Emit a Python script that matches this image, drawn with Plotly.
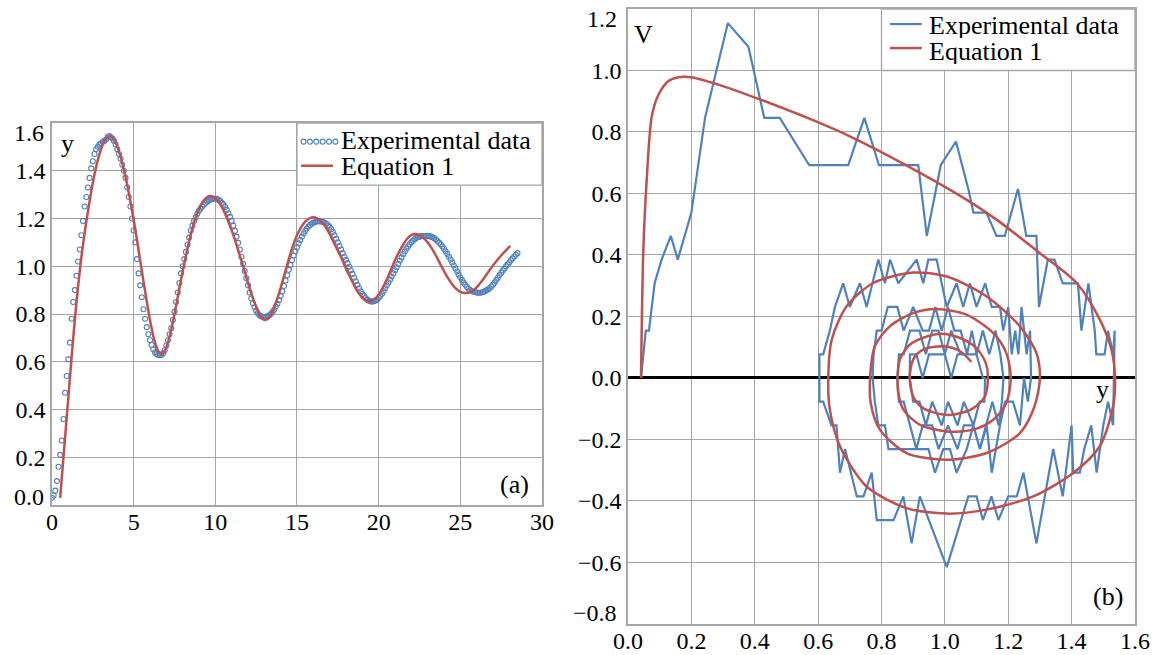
import plotly.graph_objects as go

# ---------------- Panel (a): y versus tau ----------------
tau_exp = [
    0.0, 0.1, 0.2, 0.3, 0.4, 0.5, 0.6, 0.7, 0.8, 0.9,
    1.0, 1.1, 1.2, 1.3, 1.4, 1.5, 1.6, 1.7, 1.8, 1.9,
    2.0, 2.1, 2.2, 2.3, 2.4, 2.5, 2.6, 2.7, 2.8, 2.9,
    3.0, 3.1, 3.2, 3.3, 3.4, 3.5, 3.6, 3.7, 3.8, 3.9,
    4.0, 4.1, 4.2, 4.3, 4.4, 4.5, 4.6, 4.7, 4.8, 4.9,
    5.0, 5.1, 5.2, 5.3, 5.4, 5.5, 5.6, 5.7, 5.8, 5.9,
    6.0, 6.1, 6.2, 6.3, 6.4, 6.5, 6.6, 6.7, 6.8, 6.9,
    7.0, 7.1, 7.2, 7.3, 7.4, 7.5, 7.6, 7.7, 7.8, 7.9,
    8.0, 8.1, 8.2, 8.3, 8.4, 8.5, 8.6, 8.7, 8.8, 8.9,
    9.0, 9.1, 9.2, 9.3, 9.4, 9.5, 9.6, 9.7, 9.8, 9.9,
    10.0, 10.1, 10.2, 10.3, 10.4, 10.5, 10.6, 10.7, 10.8, 10.9,
    11.0, 11.1, 11.2, 11.3, 11.4, 11.5, 11.6, 11.7, 11.8, 11.9,
    12.0, 12.1, 12.2, 12.3, 12.4, 12.5, 12.6, 12.7, 12.8, 12.9,
    13.0, 13.1, 13.2, 13.3, 13.4, 13.5, 13.6, 13.7, 13.8, 13.9,
    14.0, 14.1, 14.2, 14.3, 14.4, 14.5, 14.6, 14.7, 14.8, 14.9,
    15.0, 15.1, 15.2, 15.3, 15.4, 15.5, 15.6, 15.7, 15.8, 15.9,
    16.0, 16.1, 16.2, 16.3, 16.4, 16.5, 16.6, 16.7, 16.8, 16.9,
    17.0, 17.1, 17.2, 17.3, 17.4, 17.5, 17.6, 17.7, 17.8, 17.9,
    18.0, 18.1, 18.2, 18.3, 18.4, 18.5, 18.6, 18.7, 18.8, 18.9,
    19.0, 19.1, 19.2, 19.3, 19.4, 19.5, 19.6, 19.7, 19.8, 19.9,
    20.0, 20.1, 20.2, 20.3, 20.4, 20.5, 20.6, 20.7, 20.8, 20.9,
    21.0, 21.1, 21.2, 21.3, 21.4, 21.5, 21.6, 21.7, 21.8, 21.9,
    22.0, 22.1, 22.2, 22.3, 22.4, 22.5, 22.6, 22.7, 22.8, 22.9,
    23.0, 23.1, 23.2, 23.3, 23.4, 23.5, 23.6, 23.7, 23.8, 23.9,
    24.0, 24.1, 24.2, 24.3, 24.4, 24.5, 24.6, 24.7, 24.8, 24.9,
    25.0, 25.1, 25.2, 25.3, 25.4, 25.5, 25.6, 25.7, 25.8, 25.9,
    26.0, 26.1, 26.2, 26.3, 26.4, 26.5, 26.6, 26.7, 26.8, 26.9,
    27.0, 27.1, 27.2, 27.3, 27.4, 27.5, 27.6, 27.7, 27.8, 27.9,
    28.0, 28.1, 28.2, 28.3, 28.4, 28.5,
]
y_exp = [
    0.03, 0.04, 0.06, 0.10, 0.16, 0.21, 0.27, 0.36, 0.47, 0.54,
    0.61, 0.68, 0.78, 0.85, 0.90, 0.96, 1.02, 1.07, 1.13, 1.19,
    1.25, 1.29, 1.33, 1.37, 1.41, 1.44, 1.47, 1.49, 1.50, 1.51,
    1.515, 1.52, 1.525, 1.53, 1.54, 1.545, 1.54, 1.535, 1.525, 1.51,
    1.49, 1.47, 1.45, 1.425, 1.40, 1.37, 1.33, 1.29, 1.25, 1.20,
    1.15, 1.10, 1.03, 0.97, 0.92, 0.87, 0.82, 0.78, 0.745, 0.715,
    0.69, 0.67, 0.652, 0.64, 0.632, 0.628, 0.627, 0.628, 0.635, 0.648,
    0.668, 0.69, 0.715, 0.74, 0.775, 0.81, 0.85, 0.89, 0.93, 0.97,
    1.00, 1.03, 1.06, 1.09, 1.12, 1.15, 1.17, 1.19, 1.205, 1.22,
    1.232, 1.242, 1.25, 1.258, 1.265, 1.27, 1.275, 1.279, 1.282, 1.283,
    1.283, 1.281, 1.278, 1.273, 1.266, 1.258, 1.248, 1.236, 1.222, 1.207,
    1.19, 1.17, 1.148, 1.124, 1.098, 1.07, 1.04, 1.01, 0.98, 0.95,
    0.92, 0.89, 0.865, 0.845, 0.828, 0.814, 0.803, 0.795, 0.79, 0.788,
    0.787, 0.788, 0.79, 0.795, 0.80, 0.808, 0.818, 0.83, 0.843, 0.858,
    0.875, 0.895, 0.917, 0.94, 0.962, 0.985, 1.005, 1.025, 1.045, 1.063,
    1.08, 1.096, 1.11, 1.124, 1.137, 1.148, 1.158, 1.166, 1.173, 1.178,
    1.182, 1.185, 1.187, 1.188, 1.188, 1.187, 1.185, 1.182, 1.178, 1.172,
    1.165, 1.155, 1.143, 1.13, 1.115, 1.10, 1.085, 1.07, 1.055, 1.04,
    1.027, 1.013, 0.998, 0.983, 0.968, 0.952, 0.937, 0.922, 0.908, 0.895,
    0.884, 0.875, 0.867, 0.86, 0.856, 0.853, 0.852, 0.853, 0.856, 0.86,
    0.867, 0.875, 0.885, 0.896, 0.908, 0.92, 0.932, 0.944, 0.957, 0.97,
    0.983, 0.996, 1.01, 1.024, 1.037, 1.05, 1.062, 1.073, 1.083, 1.092,
    1.10, 1.107, 1.113, 1.118, 1.122, 1.124, 1.126, 1.127, 1.127, 1.127,
    1.127, 1.126, 1.124, 1.121, 1.117, 1.112, 1.106, 1.099, 1.092, 1.083,
    1.073, 1.063, 1.052, 1.04, 1.028, 1.016, 1.003, 0.99, 0.978, 0.965,
    0.953, 0.942, 0.932, 0.922, 0.913, 0.906, 0.90, 0.896, 0.893, 0.891,
    0.89, 0.889, 0.889, 0.89, 0.892, 0.895, 0.899, 0.903, 0.908, 0.915,
    0.923, 0.932, 0.942, 0.952, 0.963, 0.973, 0.982, 0.991, 1.00, 1.008,
    1.016, 1.025, 1.033, 1.041, 1.048, 1.055,
]
tau_eq = [
    0.5, 0.75, 1.0, 1.25, 1.5, 1.75, 2.0, 2.25, 2.5, 2.75,
    3.0, 3.25, 3.5, 3.75, 4.0, 4.25, 4.5, 4.75, 5.0, 5.25,
    5.5, 5.75, 6.0, 6.25, 6.5, 6.75, 7.0, 7.25, 7.5, 7.75,
    8.0, 8.25, 8.5, 8.75, 9.0, 9.25, 9.5, 9.75, 10.0, 10.25,
    10.5, 10.75, 11.0, 11.25, 11.5, 11.75, 12.0, 12.25, 12.5, 12.75,
    13.0, 13.25, 13.5, 13.75, 14.0, 14.25, 14.5, 14.75, 15.0, 15.25,
    15.5, 15.75, 16.0, 16.25, 16.5, 16.75, 17.0, 17.25, 17.5, 17.75,
    18.0, 18.25, 18.5, 18.75, 19.0, 19.25, 19.5, 19.75, 20.0, 20.25,
    20.5, 20.75, 21.0, 21.25, 21.5, 21.75, 22.0, 22.25, 22.5, 22.75,
    23.0, 23.25, 23.5, 23.75, 24.0, 24.25, 24.5, 24.75, 25.0, 25.25,
    25.5, 25.75, 26.0, 26.25, 26.5, 26.75, 27.0, 27.25, 27.5, 27.75,
    28.05,
]
y_eq = [
    0.03, 0.24, 0.45, 0.66, 0.85, 1.01, 1.14, 1.25, 1.35, 1.43,
    1.49, 1.53, 1.545, 1.535, 1.50, 1.445, 1.375, 1.29, 1.195, 1.09,
    0.98, 0.875, 0.775, 0.695, 0.645, 0.632, 0.66, 0.72, 0.80, 0.89,
    0.98, 1.06, 1.135, 1.195, 1.24, 1.272, 1.29, 1.294, 1.285, 1.265,
    1.235, 1.195, 1.15, 1.10, 1.045, 0.99, 0.93, 0.875, 0.83, 0.792,
    0.775, 0.782, 0.81, 0.855, 0.91, 0.97, 1.03, 1.085, 1.13, 1.163,
    1.187, 1.20, 1.205, 1.20, 1.187, 1.165, 1.135, 1.10, 1.065, 1.03,
    0.99, 0.955, 0.92, 0.89, 0.868, 0.855, 0.853, 0.862, 0.88, 0.91,
    0.945, 0.985, 1.025, 1.06, 1.09, 1.115, 1.13, 1.135, 1.13, 1.118,
    1.10, 1.075, 1.045, 1.012, 0.98, 0.95, 0.925, 0.905, 0.893, 0.888,
    0.889, 0.897, 0.912, 0.932, 0.955, 0.98, 1.003, 1.025, 1.045, 1.063,
    1.085,
]

# ---------------- Panel (b): V versus y (phase plane) ----------------
yb_exp = [
    0.041, 0.056, 0.066, 0.084, 0.106, 0.135, 0.157, 0.20, 0.243, 0.315,
    0.38, 0.43, 0.479, 0.572, 0.695, 0.746, 0.792, 0.916, 0.943, 0.987,
    1.035, 1.074, 1.09, 1.131, 1.163, 1.189, 1.231, 1.257, 1.289, 1.297,
    1.325, 1.346, 1.372, 1.42, 1.431, 1.453, 1.473, 1.478, 1.504, 1.515,
    1.531, 1.536,
    1.531, 1.515, 1.50, 1.49, 1.479, 1.462, 1.44, 1.426, 1.405, 1.40,
    1.372, 1.342, 1.289, 1.248, 1.227, 1.20, 1.169, 1.147, 1.12, 1.10,
    1.074, 1.006, 0.921, 0.895, 0.869, 0.838, 0.785, 0.769, 0.743, 0.722,
    0.685, 0.669, 0.658, 0.642, 0.616, 0.604, 0.604, 0.616,
    0.637, 0.653, 0.679, 0.70, 0.732, 0.753, 0.79, 0.811, 0.827, 0.853,
    0.911, 0.932, 0.948, 0.974, 1.006, 1.037, 1.058, 1.079, 1.10, 1.127,
    1.148, 1.174, 1.184, 1.20, 1.211, 1.222, 1.232, 1.242, 1.258, 1.269,
    1.272,
    1.262, 1.25, 1.237, 1.215, 1.19, 1.174, 1.148, 1.132, 1.111, 1.09,
    1.069, 1.037, 1.016, 0.995, 0.969, 0.948, 0.90, 0.874, 0.822, 0.811,
    0.79, 0.779, 0.772, 0.775,
    0.785, 0.80, 0.82, 0.85, 0.87, 0.90, 0.93, 0.95, 0.97, 0.99,
    1.01, 1.03, 1.05, 1.07, 1.085, 1.10, 1.12, 1.14, 1.16, 1.175,
    1.185,
    1.18, 1.17, 1.15, 1.13, 1.11, 1.09, 1.06, 1.04, 1.01, 0.98,
    0.96, 0.93, 0.91, 0.89, 0.87, 0.855, 0.85,
    0.855, 0.87, 0.89, 0.92, 0.94, 0.96, 0.98, 1.00, 1.02, 1.05,
    1.08, 1.10, 1.12, 1.127,
    1.125, 1.11, 1.09, 1.06, 1.04, 1.01, 0.99, 0.96, 0.94, 0.92,
    0.90, 0.889,
    0.89, 0.91, 0.93, 0.95, 0.97, 1.00, 1.02, 1.04, 1.055,
]
vb_exp = [
    0.0, 0.154, 0.154, 0.308, 0.385, 0.462, 0.385, 0.538, 0.846, 1.154,
    1.077, 0.846, 0.846, 0.692, 0.692, 0.846, 0.692, 0.692, 0.462, 0.692,
    0.769, 0.615, 0.538, 0.538, 0.462, 0.462, 0.615, 0.462, 0.462, 0.231,
    0.385, 0.385, 0.308, 0.308, 0.154, 0.308, 0.154, 0.077, 0.077, 0.154,
    0.077, 0.154,
    -0.154, -0.077, -0.154, -0.231, -0.308, -0.154, -0.231, -0.308, -0.308, -0.154,
    -0.385, -0.231, -0.538, -0.308, -0.385, -0.385, -0.462, -0.385, -0.462, -0.385,
    -0.385, -0.615, -0.385, -0.538, -0.385, -0.462, -0.462, -0.308, -0.385, -0.385,
    -0.231, -0.308, -0.154, -0.154, -0.077, -0.077, 0.077, 0.077,
    0.154, 0.231, 0.308, 0.231, 0.308, 0.231, 0.385, 0.308, 0.385, 0.308,
    0.385, 0.308, 0.385, 0.385, 0.231, 0.308, 0.231, 0.308, 0.231, 0.308,
    0.231, 0.231, 0.154, 0.231, 0.077, 0.154, 0.077, 0.231, 0.077, 0.154,
    0.0,
    -0.077, 0.0, -0.154, -0.077, -0.077, -0.154, -0.308, -0.154, -0.231, -0.154,
    -0.231, -0.308, -0.231, -0.231, -0.308, -0.231, -0.231, -0.231, -0.231, -0.154,
    -0.154, -0.077, 0.0, 0.077,
    0.154, 0.154, 0.231, 0.231, 0.154, 0.231, 0.154, 0.154, 0.231, 0.154,
    0.231, 0.154, 0.154, 0.077, 0.154, 0.077, 0.154, 0.077, 0.154, 0.077,
    0.0,
    -0.077, -0.154, -0.077, -0.154, -0.231, -0.154, -0.154, -0.231, -0.154, -0.231,
    -0.154, -0.154, -0.231, -0.154, -0.077, -0.077, 0.0,
    0.077, 0.077, 0.154, 0.154, 0.077, 0.154, 0.154, 0.077, 0.154, 0.077,
    0.077, 0.077, 0.0, 0.0,
    -0.077, -0.077, -0.154, -0.077, -0.154, -0.077, -0.154, -0.077, -0.154, -0.077,
    -0.077, 0.0,
    0.077, 0.077, 0.0, 0.077, 0.077, 0.077, 0.0, 0.077, 0.077,
]
yb_eq = [
    0.041, 0.048, 0.059, 0.075, 0.096, 0.127, 0.159, 0.20, 0.285, 0.39,
    0.58, 0.70, 0.874, 1.068, 1.163, 1.30, 1.416, 1.489, 1.526, 1.537,
    1.531, 1.489, 1.405, 1.279, 1.132, 1.006, 0.879, 0.752, 0.669, 0.637,
    0.632,
    0.643, 0.69, 0.774, 0.90, 1.006, 1.132, 1.237, 1.289, 1.30,
    1.283, 1.237, 1.132, 1.006, 0.879, 0.795, 0.766, 0.764,
    0.779, 0.826, 0.90, 0.974, 1.068, 1.153, 1.194, 1.208,
    1.194, 1.153, 1.09, 1.006, 0.921, 0.869, 0.853, 0.851,
    0.858, 0.889, 0.943, 0.989, 1.048, 1.099, 1.129, 1.136,
    1.126, 1.09, 1.037, 0.994, 0.931, 0.90, 0.889,
    0.90, 0.931, 0.995, 1.048, 1.084,
]
vb_eq = [
    0.0, 0.406, 0.645, 0.851, 0.921, 0.965, 0.978, 0.978, 0.954, 0.916,
    0.84, 0.786, 0.694, 0.58, 0.515, 0.406, 0.309, 0.19, 0.092, 0.0,
    -0.092, -0.222, -0.309, -0.385, -0.428, -0.441, -0.423, -0.352, -0.222, -0.103,
    0.0,
    0.125, 0.233, 0.309, 0.343, 0.330, 0.265, 0.168, 0.081, 0.0,
    -0.092, -0.179, -0.244, -0.266, -0.244, -0.168, -0.081, 0.0,
    0.103, 0.168, 0.211, 0.224, 0.206, 0.146, 0.081, 0.0,
    -0.081, -0.136, -0.168, -0.174, -0.152, -0.103, -0.049, 0.0,
    0.06, 0.108, 0.135, 0.144, 0.130, 0.098, 0.049, 0.0,
    -0.06, -0.098, -0.117, -0.119, -0.098, -0.06, 0.0,
    0.06, 0.092, 0.103, 0.087, 0.052,
]

# tick values (the end values of the y axes are written as nudged labels below)
ticks_a_x = [0, 5, 10, 15, 20, 25, 30]
ticks_a_y = [0.2, 0.4, 0.6, 0.8, 1.0, 1.2, 1.4]
ends_a_y = ["1.6", "0.0"]
ticks_b_x = [0.0, 0.2, 0.4, 0.6, 0.8, 1.0, 1.2, 1.4, 1.6]
ticks_b_y = [-0.6, -0.4, -0.2, 0.0, 0.2, 0.4, 0.6, 0.8, 1.0]
ends_b_y = ["1.2", "\u22120.8"]

legend_labels = ["Experimental data", "Equation 1"]

BLUE = "#4f81bd"
RED = "#c0504d"
GRID = "#a6a6a6"
FONT = "Liberation Serif, Times New Roman, DejaVu Serif, serif"

fig = go.Figure()
fig.add_trace(go.Scatter(x=tau_exp, y=y_exp, mode="markers", name=legend_labels[0],
                         marker=dict(symbol="circle-open", size=5, color=BLUE, line=dict(width=1.1, color=BLUE)),
                         xaxis="x", yaxis="y", showlegend=False))
fig.add_trace(go.Scatter(x=tau_eq, y=y_eq, mode="lines", name=legend_labels[1],
                         line=dict(color=RED, width=2.5, shape="spline", smoothing=0.8),
                         xaxis="x", yaxis="y", showlegend=False))
fig.add_trace(go.Scatter(x=yb_exp, y=vb_exp, mode="lines", name=legend_labels[0],
                         line=dict(color=BLUE, width=2.2),
                         xaxis="x2", yaxis="y2", showlegend=False))
fig.add_trace(go.Scatter(x=yb_eq, y=vb_eq, mode="lines", name=legend_labels[1],
                         line=dict(color=RED, width=2.5, shape="spline", smoothing=0.8),
                         xaxis="x2", yaxis="y2", showlegend=False))

tick_font = dict(family=FONT, size=24, color="black")
axis_common = dict(showgrid=True, gridcolor=GRID, gridwidth=1.3, showline=True, mirror=True,
                   linecolor=GRID, linewidth=1.5, ticks="", tickfont=tick_font,
                   zeroline=False, automargin=False, ticklabeloverflow="allow")

fig.update_layout(
    width=1156, height=655,
    margin=dict(l=0, r=0, t=0, b=0),
    paper_bgcolor="white", plot_bgcolor="white",
    showlegend=False,
    font=dict(family=FONT, size=24, color="black"),
    xaxis=dict(domain=[0.04498, 0.46886], range=[0, 30.0001], tickvals=ticks_a_x,
               anchor="y", ticklabelstandoff=-6, **axis_common),
    yaxis=dict(domain=[0.22901, 0.81221], range=[0, 1.6], tickvals=ticks_a_y, tickformat=".1f",
               anchor="x", **axis_common),
    xaxis2=dict(domain=[0.54325, 0.98183], range=[-0.0001, 1.6001], tickvals=ticks_b_x, tickformat=".1f",
                anchor="y2", ticklabelstandoff=-6, **axis_common),
    yaxis2=dict(domain=[0.04733, 0.98626], range=[-0.8, 1.2], tickvals=ticks_b_y, tickformat=".1f",
                anchor="x2", **{**axis_common, "zeroline": True}, zerolinecolor="black",
                zerolinewidth=3),
)

shapes = []
annotations = []
txt = dict(family=FONT, size=26, color="black")

# nudged end labels of the y axes (as in the original, pulled inside the axis span)
annotations += [
    dict(xref="paper", yref="paper", x=0.0398, y=0.7970, text=ends_a_y[0], showarrow=False,
         xanchor="right", yanchor="middle", font=tick_font),
    dict(xref="paper", yref="paper", x=0.0398, y=0.2417, text=ends_a_y[1], showarrow=False,
         xanchor="right", yanchor="middle", font=tick_font),
    dict(xref="paper", yref="paper", x=0.5355, y=0.9710, text=ends_b_y[0], showarrow=False,
         xanchor="right", yanchor="middle", font=tick_font),
    dict(xref="paper", yref="paper", x=0.5355, y=0.0641, text=ends_b_y[1], showarrow=False,
         xanchor="right", yanchor="middle", font=tick_font),
]

# legend (a)
shapes.append(dict(type="rect", xref="x", yref="y", x0=15, x1=30, y0=1.34, y1=1.6,
                   fillcolor="white", line=dict(color=GRID, width=1.3), layer="above"))
for cx in [15.4, 15.79, 16.18, 16.57, 16.96, 17.35]:
    shapes.append(dict(type="circle", xref="x", yref="y", x0=cx - 0.15, x1=cx + 0.15,
                       y0=1.522 - 0.0105, y1=1.522 + 0.0105, line=dict(color=BLUE, width=1.1),
                       layer="above"))
shapes.append(dict(type="line", xref="x", yref="y", x0=15.25, x1=17.2, y0=1.421, y1=1.421,
                   line=dict(color=RED, width=2.5), layer="above"))
annotations.append(dict(xref="x", yref="y", x=17.55, y=1.527, text=legend_labels[0], height=26,
                        showarrow=False, xanchor="left", yanchor="middle", font=txt))
annotations.append(dict(xref="x", yref="y", x=17.55, y=1.418, text=legend_labels[1], height=26,
                        showarrow=False, xanchor="left", yanchor="middle", font=txt))

# legend (b)
shapes.append(dict(type="rect", xref="x2", yref="y2", x0=0.8, x1=1.6, y0=1.0, y1=1.2,
                   fillcolor="white", line=dict(color=GRID, width=1.3), layer="above"))
shapes.append(dict(type="line", xref="x2", yref="y2", x0=0.827, x1=0.927, y0=1.151, y1=1.151,
                   line=dict(color=BLUE, width=2.2), layer="above"))
shapes.append(dict(type="line", xref="x2", yref="y2", x0=0.827, x1=0.927, y0=1.073, y1=1.073,
                   line=dict(color=RED, width=2.5), layer="above"))
annotations.append(dict(xref="x2", yref="y2", x=0.945, y=1.147, text=legend_labels[0], height=26,
                        showarrow=False, xanchor="left", yanchor="middle", font=txt))
annotations.append(dict(xref="x2", yref="y2", x=0.945, y=1.063, text=legend_labels[1], height=26,
                        showarrow=False, xanchor="left", yanchor="middle", font=txt))

# axis names and panel labels
annotations += [
    dict(xref="x", yref="y", x=0.45, y=1.515, text="y", showarrow=False,
         xanchor="left", yanchor="middle", font=txt),
    dict(xref="x", yref="y", x=29.3, y=0.085, text="(a)", showarrow=False,
         xanchor="right", yanchor="middle", font=txt),
    dict(xref="x", yref="y", x=27.25, y=-0.068, text="τ", showarrow=False,
         xanchor="center", yanchor="middle", font=dict(family=FONT, size=27, color="black")),
    dict(xref="x2", yref="y2", x=0.014, y=1.118, text="V", showarrow=False,
         xanchor="left", yanchor="middle", font=txt),
    dict(xref="x2", yref="y2", x=1.568, y=-0.71, text="(b)", showarrow=False,
         xanchor="right", yanchor="middle", font=txt),
    dict(xref="x2", yref="y2", x=1.497, y=-0.036, text="y", showarrow=False,
         xanchor="center", yanchor="middle", font=txt),
]

fig.update_layout(shapes=shapes, annotations=annotations)
fig.write_html("out.html")
